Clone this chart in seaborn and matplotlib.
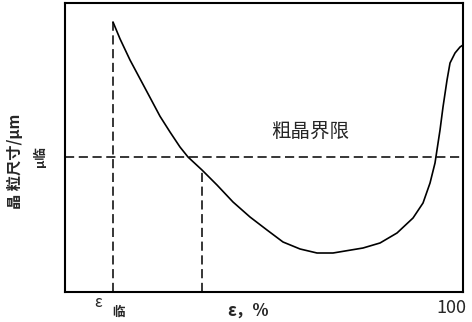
import numpy as np
import pandas as pd
import matplotlib
matplotlib.use("Agg")
import matplotlib.pyplot as plt
import seaborn as sns

# ---------------- DATA ----------------
strain = [12.06, 13.82, 16.33, 18.84, 21.36, 23.87, 26.38, 28.89, 30.90, 34.42,
          38.19, 42.21, 46.48, 50.75, 54.77, 59.05, 63.32, 67.34, 74.87, 79.15,
          83.42, 87.44, 89.95, 91.71, 92.96, 94.22, 94.97, 95.98, 96.73, 97.99,
          99.25, 100.0]
grain = [93.43, 87.60, 80.28, 73.80, 67.30, 60.80, 55.36, 50.17, 46.71, 42.21,
         37.02, 31.14, 25.95, 21.45, 17.30, 14.88, 13.49, 13.49, 15.22, 16.96,
         20.42, 25.61, 30.80, 37.72, 44.64, 56.06, 64.01, 73.36, 79.24, 82.70,
         84.78, 85.47]
eps_crit = 12.06
eps_mark = 34.42
d_crit = 46.71
limit_label = "粗晶界限"
xlabel = "ε，%"
ylabel = "晶 粒尺寸/μm"
x_end_label = "100"

df = pd.DataFrame({"strain": strain, "grain": grain})

# ---------------- STYLE ----------------
sns.set_style("white")
plt.rcParams["font.family"] = ["Noto Sans CJK SC", "DejaVu Sans"]

fig = plt.figure(figsize=(4.72, 3.22), dpi=100)
ax = fig.add_axes([0.1377, 0.0932, 0.8433, 0.8975])

sns.lineplot(data=df, x="strain", y="grain", color="black", linewidth=1.2, ax=ax)

dash = (0, (6, 3))
ax.axhline(d_crit, color="black", lw=1.1, linestyle=dash)
ax.plot([eps_crit, eps_crit], [0, grain[0]], color="black", lw=1.1, linestyle=dash)
ax.plot([eps_mark, eps_mark], [0, grain[strain.index(eps_mark)]], color="black", lw=1.1, linestyle=dash)

ax.set_xlim(0, 100)
ax.set_ylim(0, 100)
ax.set_xticks([])
ax.set_yticks([])
ax.set_xlabel("")
ax.set_ylabel("")
for s in ax.spines.values():
    s.set_color("black")
    s.set_linewidth(1.5)

ax.text(61.5, 55.5, limit_label, ha="center", va="center", fontsize=14)

# x annotations
fig.text(0.2076, 0.062, "ε", ha="center", va="center", fontsize=11)
fig.text(0.252, 0.031, "临", ha="center", va="center", fontsize=9, fontweight="bold")
fig.text(0.525, 0.034, xlabel, ha="center", va="center", fontsize=12, fontweight="bold")
fig.text(0.9555, 0.0435, x_end_label, ha="center", va="center", fontsize=13)

# y annotations
fig.text(0.032, 0.50, ylabel, rotation=90, ha="center", va="center", fontsize=11, fontweight="bold")
fig.text(0.085, 1 - 157 / 322, "μ临", rotation=90, ha="center", va="center", fontsize=9, fontweight="bold")

fig.savefig("out.png", dpi=100)
